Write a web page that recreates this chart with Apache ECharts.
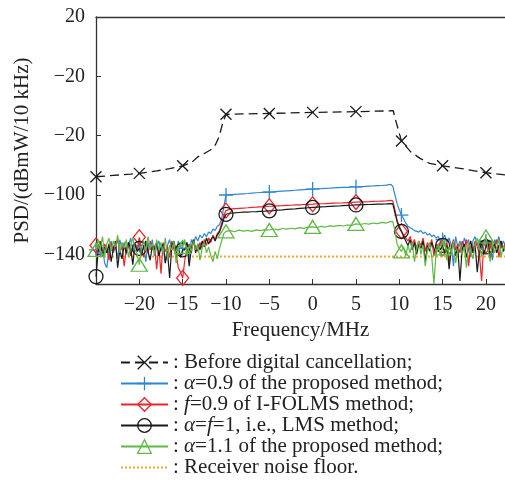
<!DOCTYPE html>
<html><head><meta charset="utf-8">
<script src="https://cdn.jsdelivr.net/npm/echarts@6/dist/echarts.min.js"></script>
<style>html,body{margin:0;padding:0;background:#fff}#c{width:505px;height:482px}</style>
</head><body><div id="c"></div>
<script>
// Shared frequency grid (MHz) for the adaptive-cancellation curves
const freq = [
  -25,-24.75,-24.5,-24.25,-24,-23.75,-23.5,-23.25,-23,-22.75,
  -22.5,-22.25,-22,-21.75,-21.5,-21.25,-21,-20.75,-20.5,-20.25,
  -20,-19.75,-19.5,-19.25,-19,-18.75,-18.5,-18.25,-18,-17.75,
  -17.5,-17.25,-17,-16.75,-16.5,-16.25,-16,-15.75,-15.5,-15.25,
  -15,-14.75,-14.5,-14.25,-14,-13.75,-13.5,-13.25,-13,-12.75,
  -12.5,-12.25,-12,-11.75,-11.5,-11.25,-11,-10.75,-10.5,-10.25,
  -10,-9.5,-9,-8.5,-8,-7.5,-7,-6.5,-6,-5.5,
  -5,-4.5,-4,-3.5,-3,-2.5,-2,-1.5,-1,-0.5,
  0,0.5,1,1.5,2,2.5,3,3.5,4,4.5,
  5,5.5,6,6.5,7,7.5,8,8.5,9,
  9.25,9.5,9.75,10,10.25,10.5,10.75,11,11.25,11.5,
  11.75,12,12.25,12.5,12.75,13,13.25,13.5,13.75,14,
  14.25,14.5,14.75,15,15.25,15.5,15.75,16,16.25,16.5,
  16.75,17,17.25,17.5,17.75,18,18.25,18.5,18.75,19,
  19.25,19.5,19.75,20,20.25,20.5,20.75,21,21.25,21.5,
  21.75,22,22.25
];
const alpha09 = [
  -137,-133,-141,-135,-146,-149,-136,-131,-139,-134,
  -143,-130,-137,-132,-140,-135,-129,-138,-133,-136,
  -134,-139,-134,-145,-132,-137,-130,-141,-135,-131,
  -138,-133,-146,-134,-130,-137,-132,-139,-131,-135,
  -136,-137,-132,-144,-130,-133,-128,-131,-127,-129,
  -126,-128,-125,-126,-123,-124,-121,-120,-116,-108,
  -100,-99.8,-99.6,-99.4,-99.2,-99,-98.7,-98.5,-98.3,-98.1,
  -98,-97.8,-97.6,-97.4,-97.2,-97,-96.8,-96.6,-96.4,-96.2,
  -96,-95.8,-95.7,-95.5,-95.4,-95.2,-95,-94.9,-94.8,-94.6,
  -94.5,-94.3,-94.2,-94,-93.9,-93.7,-93.6,-93.4,-92.8,
  -94,-100,-106,-110,-113.5,-116,-119,-121,-122,-123,
  -124,-124.5,-125,-124,-126,-125,-127,-126,-128,-127,
  -129,-128,-131,-130,-127,-132,-129,-134,-148,-128,
  -135,-131,-138,-129,-133,-130,-142,-131,-128,-134,
  -130,-137,-132,-131,-135,-131,-144,-130,-133,-128,
  -136,-131,-134
];
const ifolms09 = [
  -134,-137,-131,-140,-133,-136,-144,-132,-138,-135,
  -130,-139,-134,-148,-136,-132,-141,-135,-133,-138,
  -128.5,-136,-142,-133,-139,-131,-137,-134,-150,-135,
  -153,-132,-138,-135,-142,-131,-137,-140,-149,-152,
  -156,-144,-136,-133,-139,-131,-135,-138,-132,-136,
  -130,-134,-129,-132,-127,-130,-126,-124,-119,-114,
  -110.5,-109.5,-109.2,-109,-108.8,-108.6,-108.3,-108.2,-108,-107.8,
  -107.6,-107.5,-107.3,-107.2,-107,-106.9,-106.7,-106.6,-106.4,-106.3,
  -106.2,-106,-105.9,-105.8,-105.6,-105.5,-105.4,-105.3,-105.1,-105,
  -104.8,-104.7,-104.6,-104.5,-104.3,-104.2,-104.1,-104,-103.6,
  -104,-110,-117,-121,-124.5,-127,-129,-131,-128,-133,
  -130,-136,-131,-134,-129,-138,-132,-135,-130,-141,
  -133,-136,-131,-136,-138,-132,-146,-135,-130,-137,
  -133,-139,-131,-136,-130,-148,-134,-137,-131,-135,
  -140,-158,-133,-134,-137,-132,-139,-134,-130,-142,
  -133,-137,-132
];
const lms = [
  -155,-138,-132,-141,-135,-139,-133,-145,-136,-131,
  -149,-137,-143,-134,-139,-132,-136,-147,-133,-138,
  -136,-140,-135,-131,-138,-144,-134,-137,-132,-141,
  -136,-133,-146,-138,-156,-134,-131,-139,-135,-142,
  -137,-137,-132,-148,-136,-130,-139,-133,-137,-131,
  -135,-129,-133,-130,-128,-131,-127,-125,-121,-116,
  -113,-112.3,-112,-111.8,-111.6,-111.5,-111.3,-111.2,-111,-110.9,
  -110.7,-110.5,-110.2,-110,-109.7,-109.5,-109.3,-109,-108.8,-108.6,
  -108.4,-108.2,-108,-107.9,-107.7,-107.5,-107.4,-107.2,-107,-106.9,
  -106.7,-106.6,-106.5,-106.4,-106.3,-106.2,-106.1,-106,-105.8,
  -106,-112,-118,-122,-124.5,-128,-131,-134,-130,-137,
  -132,-140,-133,-136,-131,-145,-134,-138,-132,-136,
  -140,-133,-137,-134,-139,-134,-150,-136,-132,-141,
  -135,-158,-137,-133,-142,-136,-131,-139,-134,-152,
  -137,-132,-140,-135,-131,-143,-136,-133,-139,-134,
  -131,-138,-135
];
const alpha11 = [
  -137,-130,-136,-128,-141,-133,-129,-138,-131,-135,
  -127,-139,-132,-136,-130,-142,-134,-129,-137,-140,
  -147,-135,-131,-138,-128,-136,-133,-140,-130,-137,
  -132,-139,-129,-143,-134,-137,-131,-146,-136,-133,
  -135,-130,-141,-134,-138,-131,-137,-133,-144,-136,
  -132,-139,-135,-141,-145,-138,-143,-136,-131,-126,
  -124.5,-124,-124.8,-123.7,-124.3,-123.8,-124.5,-123.5,-124,-123.3,
  -123.6,-122.9,-123.5,-122.6,-123,-122.4,-122.8,-122,-122.5,-121.7,
  -121.5,-121.9,-121.2,-121.6,-120.8,-121.1,-120.5,-120.9,-120.2,-120.6,
  -119.5,-119.9,-119.2,-119.6,-118.9,-119.3,-118.5,-118.9,-117.8,
  -118,-124,-133,-136,-138,-135,-141,-134,-139,-132,
  -145,-136,-131,-140,-134,-148,-137,-132,-142,-160,
  -138,-133,-141,-136,-130,-144,-135,-139,-131,-146,
  -137,-133,-140,-135,-149,-132,-138,-143,-134,-129,
  -136,-141,-133,-128,-137,-145,-132,-139,-135,-130,
  -142,-134,-138
];
// Before digital cancellation
const beforeFreq = [-25,-23,-21,-20,-18,-16.5,-15,-14,-13.3,-12.5,-11.8,-11.2,-10.8,-10.4,-10,-5,0,5,9.3,9.6,10.25,11.3,12.4,13.5,15,17,20,22.25];
const beforeVals = [-87.7,-86.8,-85.9,-85.4,-83.8,-82.2,-80.3,-78.3,-74.5,-72,-69.7,-66,-60.7,-52,-45.6,-45,-44.3,-43.8,-43.2,-50,-63.6,-70.8,-75.3,-78.7,-80.3,-82,-85,-86.5];
// Receiver noise floor
const floorFreq = [-25, 22.25];
const floorVals = [-141.5, -141.5];
// Frequencies carrying markers
const markFreqs = [-25,-20,-15,-10,-5,0,5,10.25,15,20];
// Axis ticks
const xTicks = [-20,-15,-10,-5,0,5,10,15,20];
const yTicks = [-140,-100,-60,-20,20];
const yTickLabels = ['\u2212140','\u2212100','\u221220','\u221220','20'];
const seriesNames = ['Before digital cancellation','alpha=0.9 proposed','f=0.9 I-FOLMS','LMS','alpha=1.1 proposed','Receiver noise floor'];
const legendLabels = [
  ': Before digital cancellation;',
  ': {i|\u03b1}=0.9 of the proposed method;',
  ': {i|f}=0.9 of I-FOLMS method;',
  ': {i|\u03b1}={i|f}=1, i.e., LMS method;',
  ': {i|\u03b1}=1.1 of the proposed method;',
  ': Receiver noise floor.'
];

const FONT = 'Liberation Serif';
const TXT = '#222';
function build(xs, ys) {
  const n = Math.min(xs.length, ys.length);
  const out = [];
  for (let i = 0; i < n; i++) {
    if (markFreqs.indexOf(xs[i]) >= 0) out.push([xs[i], ys[i]]);
    else out.push({value: [xs[i], ys[i]], symbol: 'none'});
  }
  return out;
}
const SYM = {
  x: 'path://M0,0L10,10M10,0L0,10',
  plus: 'path://M5,0L5,10M0,5L10,5',
  diamond: 'path://M5,0L10,6L5,12L0,6Z',
  circle: 'path://M10,5A5,5,0,1,1,0,5A5,5,0,1,1,10,5Z',
  tri: 'path://M5,0L10,9L0,9Z'
};
function lineSeries(name, data, col, sym, size, lineType, lw, z) {
  return {
    name: name, type: 'line', data: data, z: z,
    symbol: sym, symbolSize: size, showSymbol: true,
    lineStyle: {color: col, width: lw, type: lineType},
    itemStyle: {color: 'rgba(0,0,0,0)', borderColor: col, borderWidth: 1.3},
    emphasis: {disabled: true}
  };
}
const blue = '#2f86d2', red = '#e8262b', black = '#1a1a1a', green = '#5fb843', orange = '#f0aa2c';
const fmtX = v => (v < 0 ? '\u2212' + Math.abs(v) : String(v));
const chart = echarts.init(document.getElementById('c'), null, {renderer: 'canvas'});
chart.setOption({
  animation: false,
  backgroundColor: '#fff',
  grid: {left: 96, top: 17, right: 0, bottom: 198},
  xAxis: [{
    type: 'value', min: -25, max: 22.2,
    name: 'Frequency/MHz', nameLocation: 'middle', nameGap: 35,
    nameTextStyle: {fontFamily: FONT, fontSize: 21, color: TXT},
    axisLine: {show: true, onZero: false, lineStyle: {color: '#333', width: 1.3}},
    axisTick: {show: true, inside: true, length: 5, customValues: xTicks, lineStyle: {color: '#333'}},
    axisLabel: {customValues: xTicks, formatter: fmtX, fontFamily: FONT, fontSize: 20, color: TXT, margin: 11},
    splitLine: {show: false}
  }, {
    type: 'value', position: 'top', min: -25, max: 22.2,
    axisLine: {show: true, onZero: false, lineStyle: {color: '#333', width: 1.3}},
    axisTick: {show: false}, axisLabel: {show: false}, splitLine: {show: false}
  }],
  yAxis: {
    type: 'value', min: -160, max: 20,
    name: 'PSD/(dBmW/10 kHz)', nameLocation: 'middle', nameGap: 52,
    nameTextStyle: {fontFamily: FONT, fontSize: 21, color: TXT},
    axisLine: {show: true, onZero: false, lineStyle: {color: '#333', width: 1.3}},
    axisTick: {show: true, inside: true, length: 5, customValues: yTicks, lineStyle: {color: '#333'}},
    axisLabel: {customValues: yTicks, formatter: v => yTickLabels[yTicks.indexOf(v)], fontFamily: FONT, fontSize: 20, color: TXT, margin: 11},
    splitLine: {show: false}
  },
  legend: {
    orient: 'vertical', left: 120, top: 352, padding: 0, height: 130,
    itemWidth: 47, itemHeight: 17, itemGap: 0, itemTextGap: 5,
    data: seriesNames,
    selectedMode: false,
    itemStyle: {borderWidth: 1.3},
    formatter: name => legendLabels[seriesNames.indexOf(name)],
    textStyle: {
      fontFamily: FONT, fontSize: 21, color: TXT, lineHeight: 20,
      rich: {i: {fontFamily: FONT, fontSize: 21, fontStyle: 'italic', color: TXT, lineHeight: 20}}
    }
  },
  series: [
    {
      name: seriesNames[5], type: 'line', z: 1,
      data: floorFreq.map((x, i) => [x, floorVals[i]]),
      symbol: 'none',
      lineStyle: {color: orange, width: 2, type: [2, 2]},
      itemStyle: {color: 'rgba(0,0,0,0)', borderColor: 'rgba(0,0,0,0)'},
      emphasis: {disabled: true}
    },
    lineSeries(seriesNames[0], build(beforeFreq, beforeVals), black, SYM.x, [11, 11], [9, 5], 1.3, 2),
    lineSeries(seriesNames[1], build(freq, alpha09), blue, SYM.plus, [14, 14], 'solid', 1.2, 3),
    lineSeries(seriesNames[2], build(freq, ifolms09), red, SYM.diamond, [12, 15], 'solid', 1.2, 4),
    lineSeries(seriesNames[3], build(freq, lms), black, SYM.circle, [14, 14], 'solid', 1.2, 5),
    lineSeries(seriesNames[4], build(freq, alpha11), green, SYM.tri, [16, 13], 'solid', 1.2, 6)
  ]
});
</script>
</body></html>
